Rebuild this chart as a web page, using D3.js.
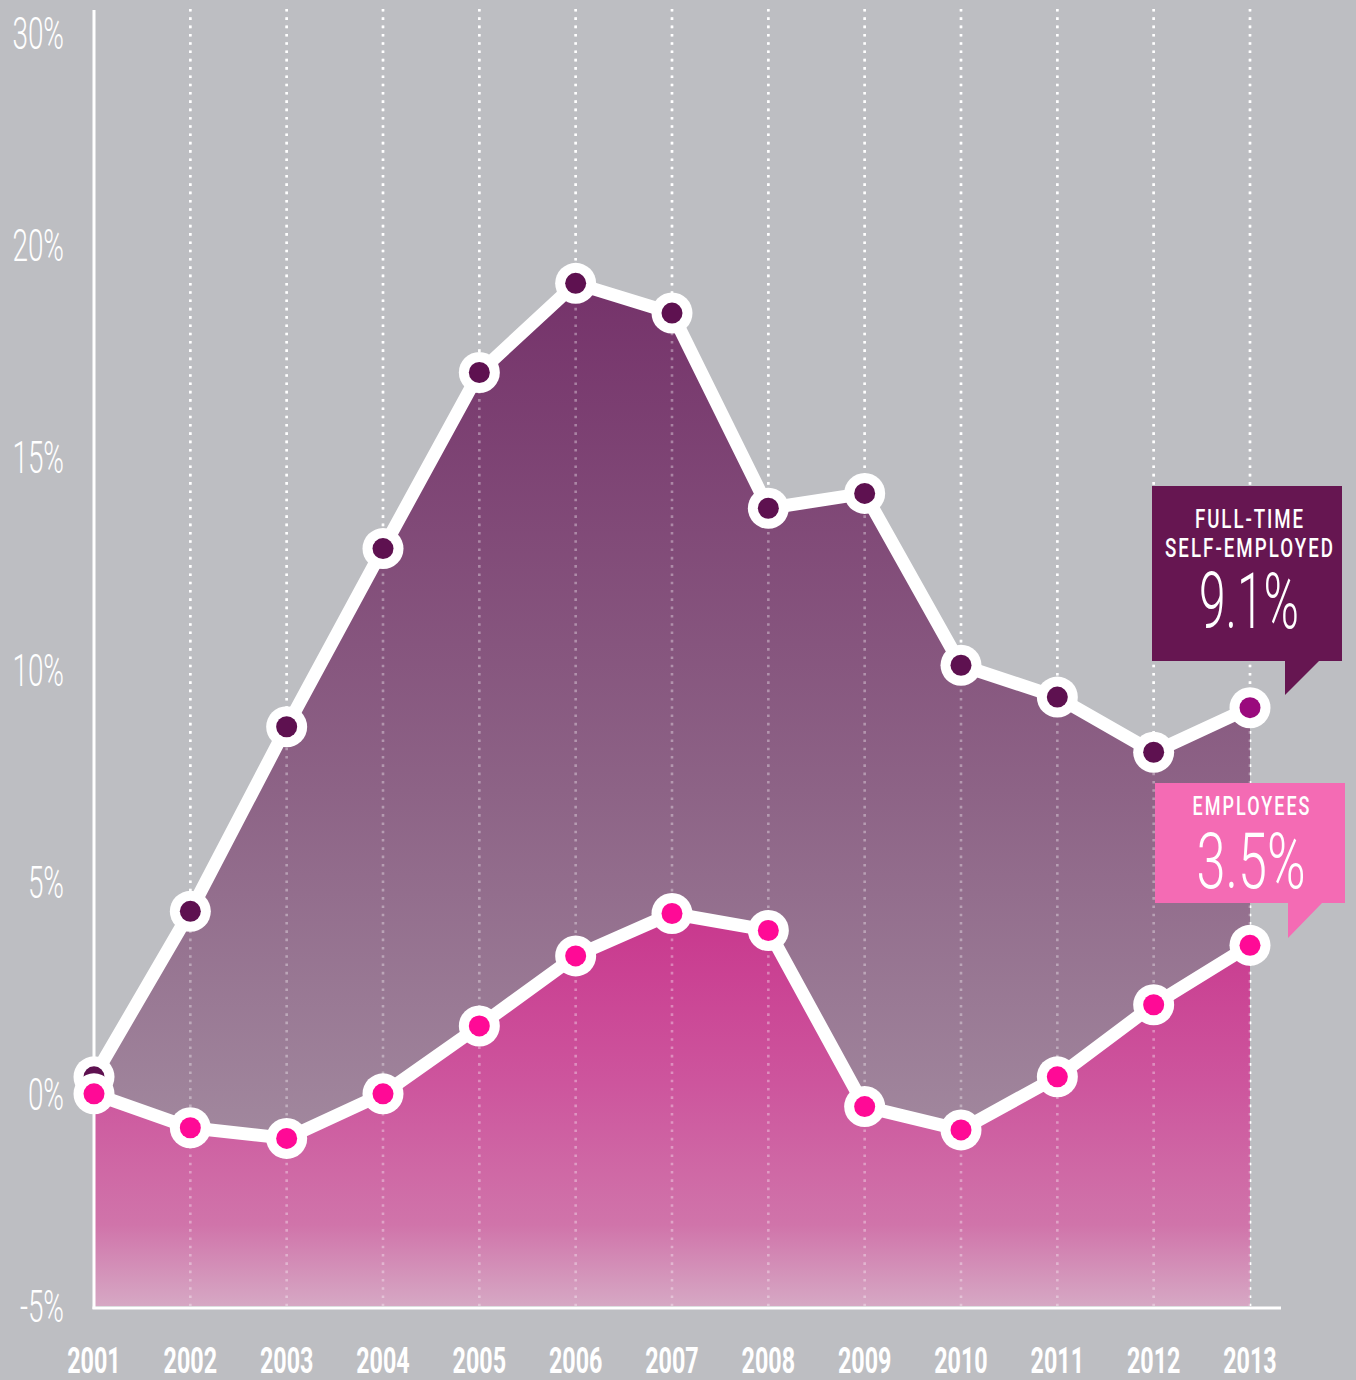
<!DOCTYPE html>
<html>
<head>
<meta charset="utf-8">
<script src="https://cdn.jsdelivr.net/npm/d3@7"></script>
<style>
  html, body { margin: 0; padding: 0; background: #bdbec2; }
  svg { display: block; }
  text { font-family: Roboto, "DejaVu Sans", sans-serif; fill: #fff; }
</style>
</head>
<body>
<div id="chart"></div>
<script>
// Growth by year, in percent
const years = [2001, 2002, 2003, 2004, 2005, 2006, 2007, 2008, 2009, 2010, 2011, 2012, 2013];
const selfEmployed = [0.4, 4.3, 8.65, 12.85, 17.0, 19.1, 18.4, 13.8, 14.15, 10.1, 9.35, 8.05, 9.1];
const employees = [0.0, -0.8, -1.05, 0.0, 1.6, 3.25, 4.25, 3.85, -0.3, -0.85, 0.4, 2.1, 3.5];

// the original axis skips 25% and prints "30%" at the top slot
const yTickValues = [25, 20, 15, 10, 5, 0, -5];
const yTickLabels = ["30%", "20%", "15%", "10%", "5%", "0%", "-5%"];

const seLabel = ["FULL-TIME", "SELF-EMPLOYED"];
const seValueLabel = "9.1%";
const empLabel = "EMPLOYEES";
const empValueLabel = "3.5%";

const W = 1356, H = 1380;

const svg = d3.select("#chart").append("svg")
  .attr("width", W).attr("height", H);

svg.append("rect").attr("width", W).attr("height", H).attr("fill", "#bdbec2");

const x = d3.scaleLinear().domain([2001, 2013]).range([94, 1250]);
const y = d3.scaleLinear().domain([-5, 25]).range([1306, 33]);

// squeeze text horizontally to mimic a condensed face
function condense(sel, factor) {
  sel.each(function () {
    const len = this.getComputedTextLength();
    d3.select(this).attr("textLength", len * factor).attr("lengthAdjust", "spacingAndGlyphs");
  });
}

// narrow glyphs, wide tracking (box captions)
function trackedLabel(cx, baseline, txt, size, width, squeeze) {
  svg.append("text")
    .attr("transform", `translate(${cx},${baseline}) scale(${squeeze},1)`)
    .attr("text-anchor", "middle")
    .attr("font-size", size).attr("font-weight", 500)
    .attr("textLength", width / squeeze).attr("lengthAdjust", "spacing")
    .text(txt);
}

// gradients
const defs = svg.append("defs");
const gSe = defs.append("linearGradient").attr("id", "gSe")
  .attr("gradientUnits", "userSpaceOnUse").attr("x1", 0).attr("x2", 0).attr("y1", 280).attr("y2", 1300);
gSe.append("stop").attr("offset", 0).attr("stop-color", "#75326a");
gSe.append("stop").attr("offset", 0.5).attr("stop-color", "#8d6386");
gSe.append("stop").attr("offset", 1).attr("stop-color", "#ab99a9");

const gEmp = defs.append("linearGradient").attr("id", "gEmp")
  .attr("gradientUnits", "userSpaceOnUse").attr("x1", 0).attr("x2", 0).attr("y1", 900).attr("y2", 1306);
gEmp.append("stop").attr("offset", 0).attr("stop-color", "#c8358c");
gEmp.append("stop").attr("offset", 0.45).attr("stop-color", "#cd559d");
gEmp.append("stop").attr("offset", 0.8).attr("stop-color", "#d074aa");
gEmp.append("stop").attr("offset", 1).attr("stop-color", "#d6a8c4");

const gridYears = years.slice(1);

function drawGrid(opacity) {
  svg.append("g").selectAll("line").data(gridYears).join("line")
    .attr("x1", d => x(d)).attr("x2", d => x(d))
    .attr("y1", 9).attr("y2", y(-5))
    .attr("stroke", "#fff").attr("stroke-width", 2.6)
    .attr("stroke-dasharray", "2.6,5.7")
    .attr("opacity", opacity);
}

drawGrid(1);

const seData = years.map((yr, i) => ({ yr, v: selfEmployed[i] }));
const empData = years.map((yr, i) => ({ yr, v: employees[i] }));

const area = d3.area().x(d => x(d.yr)).y0(y(-5)).y1(d => y(d.v));
const line = d3.line().x(d => x(d.yr)).y(d => y(d.v));

svg.append("path").datum(seData).attr("d", area).attr("fill", "url(#gSe)");
svg.append("path").datum(empData).attr("d", area).attr("fill", "url(#gEmp)");

// grid shows faintly through the filled areas
drawGrid(0.35);

// axes
svg.append("line").attr("x1", x(2001)).attr("x2", x(2001)).attr("y1", 10).attr("y2", 1309)
  .attr("stroke", "#fff").attr("stroke-width", 3);
svg.append("line").attr("x1", x(2001) - 1.5).attr("x2", 1281).attr("y1", 1308).attr("y2", 1308)
  .attr("stroke", "#fff").attr("stroke-width", 3);

const yLabels = svg.append("g").selectAll("text").data(yTickValues).join("text")
  .attr("x", 64).attr("y", d => y(d) + 16)
  .attr("text-anchor", "end")
  .attr("font-size", 45).attr("font-weight", 300)
  .text((d, i) => yTickLabels[i]);
condense(yLabels, 0.62);

const xLabels = svg.append("g").selectAll("text").data(years).join("text")
  .attr("x", d => x(d)).attr("y", 1373)
  .attr("text-anchor", "middle")
  .attr("font-size", 37).attr("font-weight", 700)
  .text(d => d);
condense(xLabels, 0.63);

// lines + markers
function drawSeries(data, dotColor, lastColor) {
  svg.append("path").datum(data).attr("d", line)
    .attr("fill", "none").attr("stroke", "#fff").attr("stroke-width", 13)
    .attr("stroke-linejoin", "round");
  const g = svg.append("g");
  g.selectAll("circle.o").data(data).join("circle").attr("class", "o")
    .attr("cx", d => x(d.yr)).attr("cy", d => y(d.v)).attr("r", 20.5).attr("fill", "#fff");
  g.selectAll("circle.i").data(data).join("circle").attr("class", "i")
    .attr("cx", d => x(d.yr)).attr("cy", d => y(d.v)).attr("r", 10.5)
    .attr("fill", (d, i) => (i === data.length - 1 && lastColor) ? lastColor : dotColor);
}

drawSeries(seData, "#5e1150", "#9a0a7d");
drawSeries(empData, "#ff0a96", null);

// callout boxes
function callout(left, right, top, bottom, tailX, tailTip, tailRight, color) {
  const p = d3.path();
  p.moveTo(left, top);
  p.lineTo(right, top);
  p.lineTo(right, bottom);
  p.lineTo(tailRight, bottom);
  p.lineTo(tailX, tailTip);
  p.lineTo(tailX, bottom);
  p.lineTo(left, bottom);
  p.closePath();
  svg.append("path").attr("d", p.toString()).attr("fill", color);
}

callout(1152, 1342, 486, 661, 1285, 695, 1319, "#661651");
callout(1155, 1345, 783, 903, 1288, 938, 1322, "#f46bb4");

const seCx = 1249;
trackedLabel(seCx, 528, seLabel[0], 26, 108, 0.72);
trackedLabel(seCx, 557, seLabel[1], 26, 168, 0.72);
svg.append("text").attr("x", seCx).attr("y", 628).attr("text-anchor", "middle")
  .attr("font-size", 77).attr("font-weight", 300)
  .attr("textLength", 100).attr("lengthAdjust", "spacingAndGlyphs").text(seValueLabel);

const empCx = 1251;
trackedLabel(empCx, 815, empLabel, 25, 117, 0.72);
svg.append("text").attr("x", empCx).attr("y", 888).attr("text-anchor", "middle")
  .attr("font-size", 77).attr("font-weight", 300)
  .attr("textLength", 109).attr("lengthAdjust", "spacingAndGlyphs").text(empValueLabel);
</script>
</body>
</html>
